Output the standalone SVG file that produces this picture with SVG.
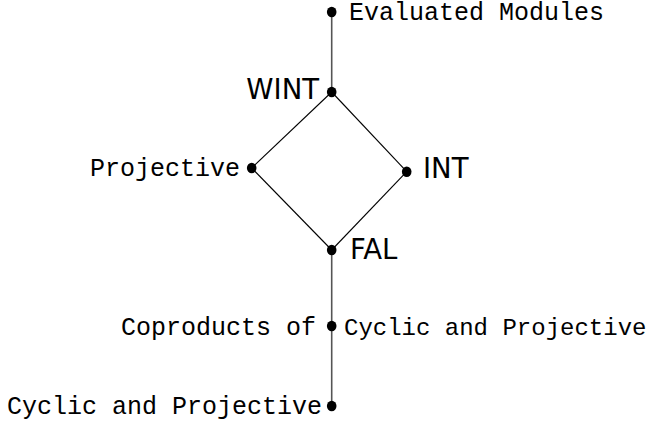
<svg xmlns="http://www.w3.org/2000/svg" width="655" height="426" viewBox="0 0 655 426">
<style>
.mono{font-family:"Liberation Mono","DejaVu Sans Mono",monospace;font-size:25px;fill:#000}
.mono.sm{font-size:24px}
.sans{font-family:"DejaVu Sans","Liberation Sans",sans-serif;font-size:27.5px;fill:#000}
.dot{fill:#000}
.vert{stroke:#555;stroke-width:1.6;fill:none}
.diag{stroke:#000;stroke-width:1.1;fill:none}
</style>
<rect width="655" height="426" fill="#fff"/>
<g id="connectors">
<line class="vert" x1="331.7" y1="12" x2="331.7" y2="92"/>
<line class="diag" x1="331.7" y1="92" x2="251.7" y2="168"/>
<line class="diag" x1="331.7" y1="92" x2="406.7" y2="171.7"/>
<line class="diag" x1="251.7" y1="168" x2="331.7" y2="250"/>
<line class="diag" x1="406.7" y1="171.7" x2="331.7" y2="250"/>
<line class="vert" x1="331.7" y1="250" x2="331.7" y2="406"/>
</g>
<g id="evaluated">
<ellipse class="dot" cx="331.7" cy="12" rx="4.8" ry="5.3"/>
<text class="mono" x="349" y="20">Evaluated Modules</text>
</g>
<g id="wint">
<ellipse class="dot" cx="331.7" cy="92" rx="4.8" ry="5.3"/>
<text class="sans" x="319" y="99" text-anchor="end">WINT</text>
</g>
<g id="projective">
<ellipse class="dot" cx="251.7" cy="168" rx="4.8" ry="5.3"/>
<text class="mono" x="240" y="176" text-anchor="end">Projective</text>
</g>
<g id="int">
<ellipse class="dot" cx="406.7" cy="171.7" rx="4.8" ry="5.3"/>
<text class="sans" x="423" y="178">INT</text>
</g>
<g id="fal">
<ellipse class="dot" cx="331.7" cy="250" rx="4.8" ry="5.3"/>
<text class="sans" x="350" y="259">FAL</text>
</g>
<g id="coproducts">
<ellipse class="dot" cx="331.7" cy="326" rx="4.8" ry="5.3"/>
<text class="mono" x="316" y="335" text-anchor="end">Coproducts of</text>
<text class="mono sm" x="344" y="335">Cyclic and Projective</text>
</g>
<g id="cyclic">
<ellipse class="dot" cx="331.7" cy="406" rx="4.8" ry="5.3"/>
<text class="mono" x="322" y="414" text-anchor="end">Cyclic and Projective</text>
</g>
</svg>
